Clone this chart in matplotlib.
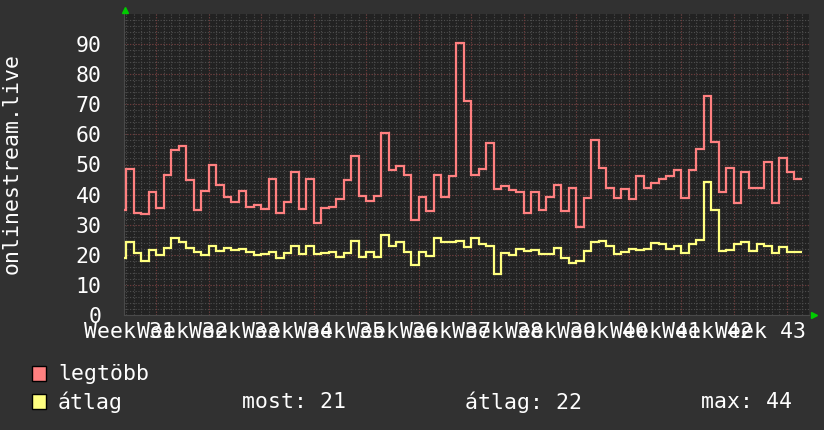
import numpy as np
import matplotlib
matplotlib.use("Agg")
import matplotlib.pyplot as plt
from matplotlib.patches import Rectangle

# ---- data (daily values, first entry is the partial day before the window) ----
legtobb = [35, 48.4, 34.0, 33.6, 41.0, 35.7, 46.5, 54.9, 56.0, 44.7, 34.9, 41.3, 49.9, 43.2, 39.3,
           37.7, 41.3, 36.0, 36.7, 35.3, 45.3, 33.8, 37.6, 47.6, 35.3, 45.3, 30.7, 35.7, 36.0, 38.4,
           44.9, 52.9, 39.6, 38.0, 39.6, 60.6, 48.2, 49.6, 46.5, 31.4, 39.1, 34.7, 46.5, 39.3, 46.3,
           90.5, 71.2, 46.5, 48.6, 57.3, 42.0, 42.9, 41.6, 40.9, 34.0, 40.7, 34.9, 39.3, 43.2, 34.7,
           42.2, 29.4, 39.0, 58.2, 48.9, 42.3, 39.0, 42.0, 38.7, 46.2, 42.3, 44.0, 45.1, 46.3, 48.2,
           39.0, 48.2, 55.1, 72.6, 57.6, 41.0, 48.8, 37.1, 47.6, 42.3, 42.3, 50.8, 37.1, 52.3, 47.6,
           45.3]
atlag = [18.8, 24.4, 20.5, 18.1, 21.6, 19.8, 22.4, 25.7, 24.4, 22.4, 20.8, 19.8, 23.0, 21.4, 22.4,
         21.5, 22.0, 20.9, 19.8, 20.3, 20.9, 18.8, 20.7, 23.0, 20.1, 22.8, 20.3, 20.5, 20.9, 19.4,
         20.5, 24.7, 19.4, 21.0, 19.4, 26.6, 22.9, 24.2, 20.8, 16.6, 21.0, 19.7, 25.5, 24.2, 24.4,
         24.7, 22.5, 25.6, 23.5, 23.0, 13.5, 20.7, 19.8, 22.0, 21.4, 21.6, 20.1, 20.1, 22.4, 18.8,
         17.4, 18.1, 21.4, 24.2, 24.7, 23.0, 20.3, 20.9, 22.0, 21.7, 22.0, 24.0, 23.6, 22.0, 23.0,
         20.7, 23.6, 24.9, 44.3, 34.9, 21.4, 21.6, 23.5, 24.4, 21.4, 23.7, 22.8, 20.7, 22.7, 20.9,
         20.9]
weeks = list(range(31, 44))
week_labels = [f"Week {w}" for w in weeks]
yticks = list(range(0, 100, 10))
legend_names = ["legtöbb", "átlag"]
stats_labels = ["most: 21", "átlag: 22", "max: 44"]

BG = "#313131"
PLOT_BG = "#222222"
RED = "#ff8080"
YEL = "#ffff80"
MINOR = "#4e4e4e"
MAJOR = "#703838"
MONO = ["DejaVu Sans Mono"]
FS = 15.5

fig = plt.figure(figsize=(8.24, 4.30), dpi=100, facecolor=BG)
W, H = 824, 430
l, r, t, b = 124, 809, 14, 315
ax = fig.add_axes([l / W, 1 - b / H, (r - l) / W, (b - t) / H])
ax.set_facecolor(PLOT_BG)

day_w = 7.506
x_left = (l - 126) / day_w
x_right = (r - 126) / day_w
ax.set_xlim(x_left, x_right)
ax.set_ylim(0, 100)

# grid
for d in range(0, 92):
    ax.axvline(d, color=MINOR, lw=0.8, ls=(0, (1, 1.5)), zorder=1)
for yv in np.arange(0, 100, 2):
    ax.axhline(yv, color=MINOR, lw=0.8, ls=(0, (1, 1.5)), zorder=1)
week_edges = [4 + 7 * j for j in range(len(weeks))]
for xv in week_edges:
    ax.axvline(xv, color=MAJOR, lw=0.8, ls=(0, (1, 1.5)), zorder=2)
for yv in yticks[1:]:
    ax.axhline(yv, color=MAJOR, lw=0.8, ls=(0, (1, 1.5)), zorder=2)

edges = np.arange(-1, len(legtobb))
ax.stairs(legtobb, edges, baseline=None, color=RED, lw=1.6, zorder=5)
ax.stairs(atlag, edges, baseline=None, color=YEL, lw=1.6, zorder=5)

# ticks
ax.set_yticks(yticks)
ax.set_yticklabels([str(v) for v in yticks], family=MONO, fontsize=FS, color="white")
ax.set_xticks([4 + 7 * j - 3.5 for j in range(len(weeks))])
ax.set_xticklabels(week_labels, family=MONO, fontsize=FS, color="white")
ax.tick_params(axis="both", length=0)
ax.tick_params(axis="y", pad=16)
ax.tick_params(axis="x", pad=5)

for s in ["top", "right"]:
    ax.spines[s].set_visible(False)
ax.spines["left"].set_color("#4a4a4a")
ax.spines["bottom"].set_color("#4a4a4a")
ax.spines["left"].set_linewidth(0.8)
ax.spines["bottom"].set_linewidth(0.8)

# arrows
fig.add_artist(plt.Line2D([125 / W], [1 - 10 / H], marker="^", color="#00cc00", markersize=4,
                          transform=fig.transFigure))
fig.add_artist(plt.Line2D([814 / W], [1 - 315 / H], marker=">", color="#00cc00", markersize=4,
                          transform=fig.transFigure))

# y label
fig.text(12 / W, 1 - 164 / H, "onlinestream.live", rotation=90, ha="center", va="center",
         family=MONO, fontsize=FS, color="white")

# legend
for i, (name, col) in enumerate(zip(legend_names, [RED, YEL])):
    y0 = 366 + 28 * i
    fig.add_artist(Rectangle((32 / W, 1 - (y0 + 15) / H), 14 / W, 15 / H, transform=fig.transFigure,
                             facecolor=col, edgecolor="black", lw=1))
    fig.text(58 / W, 1 - (y0 + 8) / H, name, ha="left", va="center", family=MONO,
             fontsize=FS, color="white")
for xs, s in zip([242, 465, 701], stats_labels):
    fig.text(xs / W, 1 - 402 / H, s, ha="left", va="center", family=MONO, fontsize=FS, color="white")

fig.savefig("out.png", dpi=100, facecolor=BG)
